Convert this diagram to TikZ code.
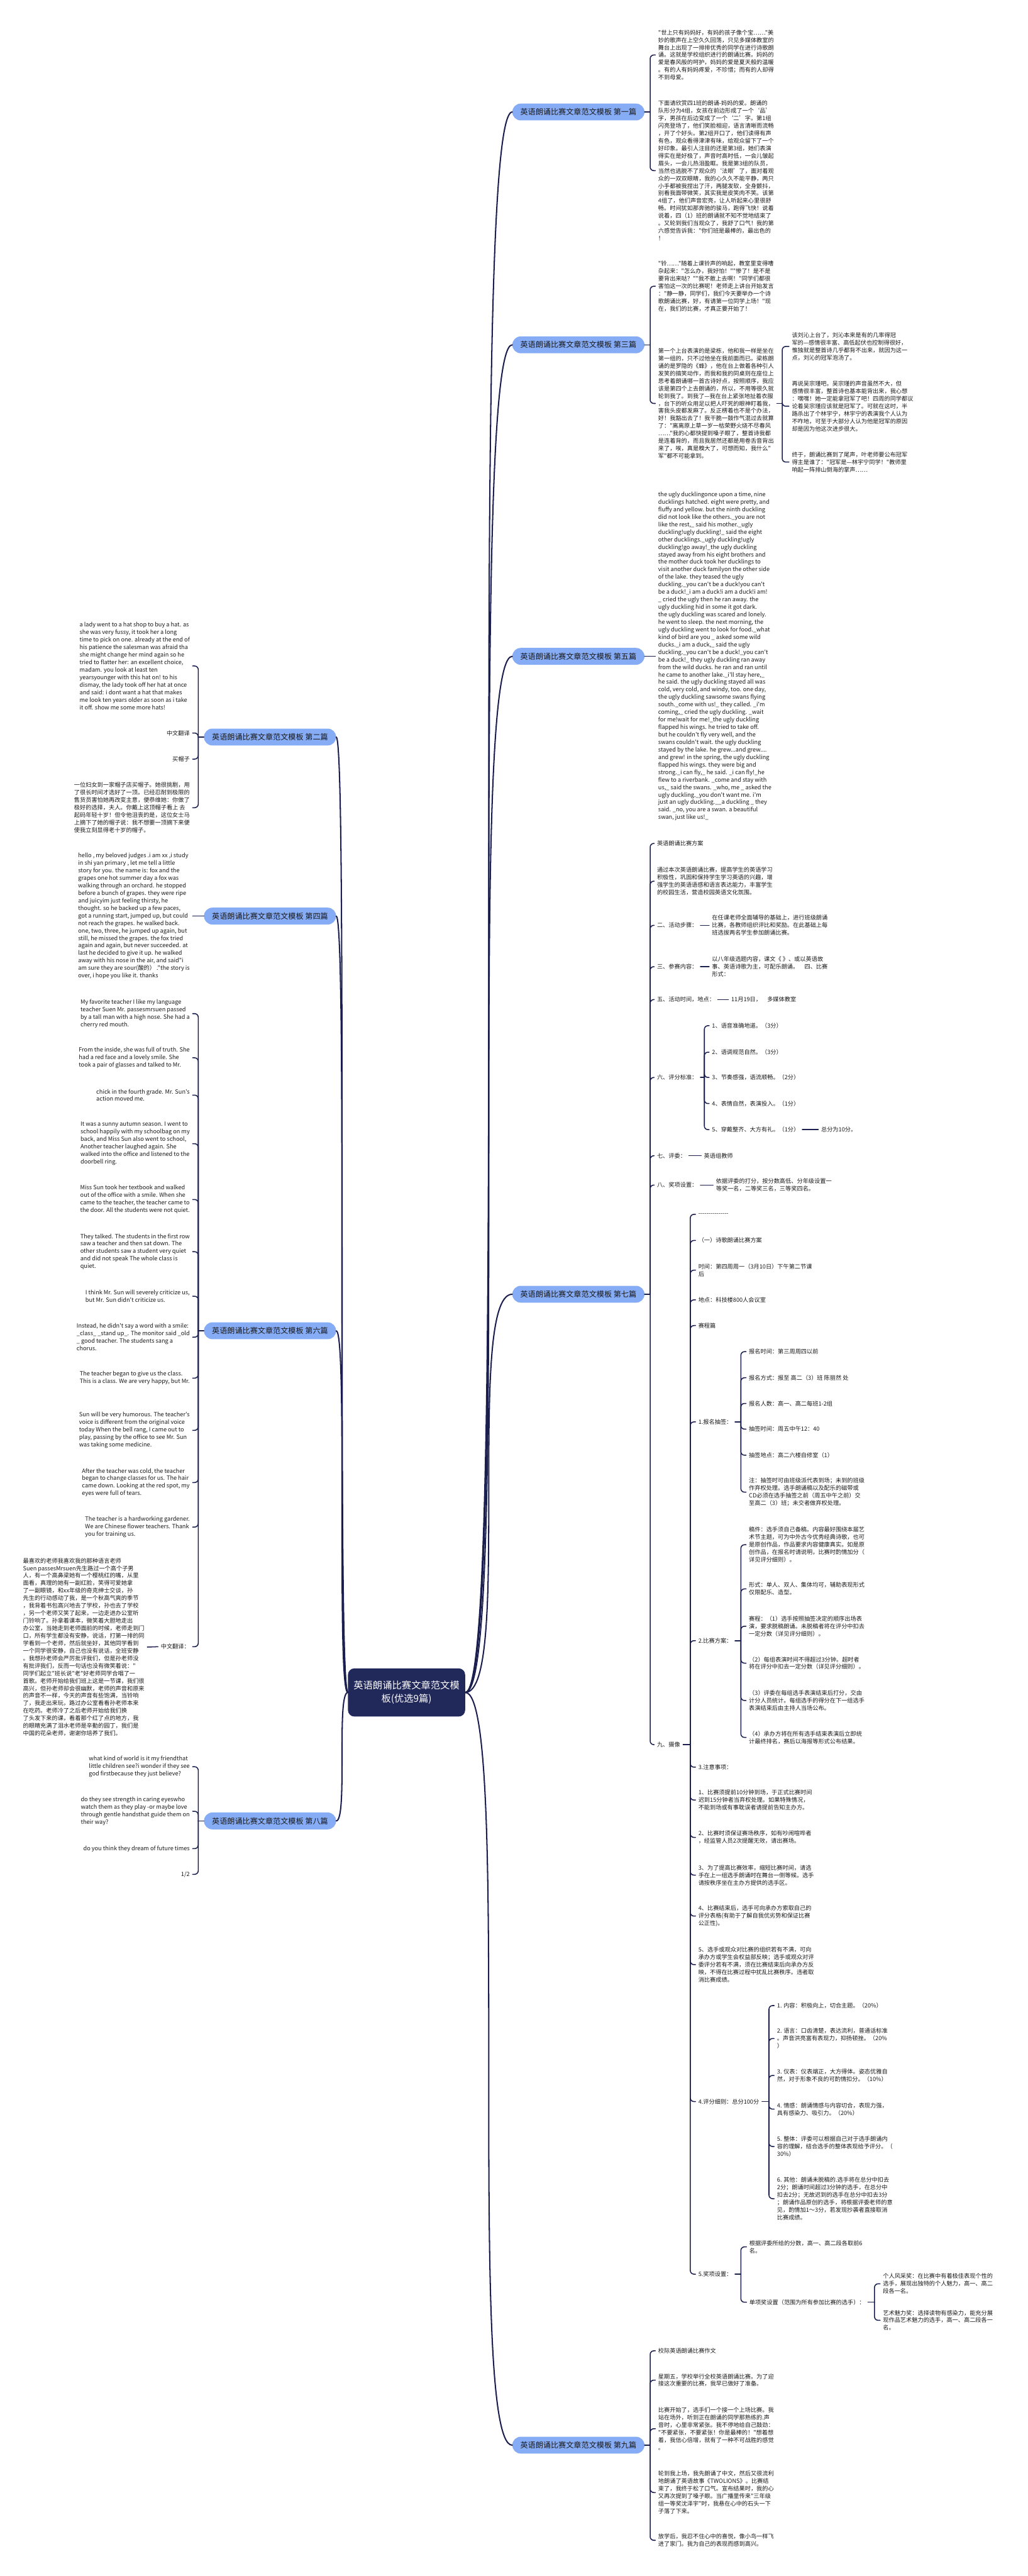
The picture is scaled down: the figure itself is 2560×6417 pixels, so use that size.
\documentclass[tikz,border=0pt]{standalone}
\usepackage{fontspec}
\newfontfamily\cjk{Noto Sans CJK SC}
\usetikzlibrary{calc}
\definecolor{rootc}{HTML}{21285A}
\definecolor{branchc}{HTML}{86ACF6}
\definecolor{linec}{HTML}{1B1F4E}
\definecolor{ink}{HTML}{1A1A1A}
\newcommand\tfont{\cjk\fontsize{14.4pt}{18.7pt}\selectfont}
\newcommand\bfont{\cjk\fontsize{19pt}{23pt}\selectfont}
\newcommand\rfont{\cjk\fontsize{24pt}{32pt}\selectfont}
\newcommand\brR[2]{\draw[conn] (#1) |- (#2.west);}
\newcommand\brL[2]{\draw[conn] (#1) |- (#2.east);}
\newcommand\mainR[1]{\draw[mainconn] (root.east) .. controls (root.east -| #1.west) and (#1.west -| root.east) .. (#1.west);}
\newcommand\mainL[1]{\draw[mainconn] (root.west) .. controls (root.west -| #1.east) and (#1.east -| root.west) .. (#1.east);}
\tikzset{
 txt/.style={font=\tfont, align=left, inner xsep=7pt, inner ysep=2pt, text=ink},
 tr/.style={txt, anchor=west},
 tl/.style={txt, anchor=east},
 branch/.style={font=\bfont, fill=branchc, text=ink, rounded corners=21pt, minimum height=42pt, inner xsep=20pt, inner ysep=0pt},
 rootnode/.style={font=\rfont, fill=rootc, text=white, rounded corners=16pt, align=center, inner xsep=14pt, inner ysep=16pt, minimum height=120pt},
 conn/.style={draw=linec, line width=2.4pt, rounded corners=9pt},
 mainconn/.style={draw=linec, line width=3.2pt},
}
\begin{document}
\begin{tikzpicture}[x=1pt,y=-1pt,line cap=round,line join=round]
\fill[white] (0,0) rectangle (2560,6417);
\useasboundingbox (0,0) rectangle (2560,6417);

% root
\node[rootnode] (root) at (1013,4216) {英语朗诵比赛文章范文模\\板(优选9篇)};

% branches
\node[branch, anchor=east] (b1) at (1606,279) {英语朗诵比赛文章范文模板 第一篇};
\node[branch, anchor=east] (b3) at (1606,859) {英语朗诵比赛文章范文模板 第三篇};
\node[branch, anchor=east] (b5) at (1606,1635) {英语朗诵比赛文章范文模板 第五篇};
\node[branch, anchor=east] (b7) at (1606,3224) {英语朗诵比赛文章范文模板 第七篇};
\node[branch, anchor=east] (b9) at (1606,6091) {英语朗诵比赛文章范文模板 第九篇};
\node[branch, anchor=west] (b2) at (508,1836) {英语朗诵比赛文章范文模板 第二篇};
\node[branch, anchor=west] (b4) at (508,2282) {英语朗诵比赛文章范文模板 第四篇};
\node[branch, anchor=west] (b6) at (508,3315) {英语朗诵比赛文章范文模板 第六篇};
\node[branch, anchor=west] (b8) at (508,4536) {英语朗诵比赛文章范文模板 第八篇};

\mainR{b1}\mainR{b3}\mainR{b5}\mainR{b7}\mainR{b9}
\mainL{b2}\mainL{b4}\mainL{b6}\mainL{b8}

% ---------- 第一篇
\node[tr] (b1a) at (1633,137) {"世上只有妈妈好，有妈的孩子像个宝……"美\\妙的歌声在上空久久回荡，只见多媒体教室的\\舞台上出现了一排排优秀的同学在进行诗歌朗\\诵。这就是学校组织进行的朗诵比赛。妈妈的\\爱是春风般的呵护，妈妈的爱是夏天般的温暖\\。有的人有妈妈疼爱，不珍惜；而有的人却得\\不到母爱。};
\node[tr] (b1b) at (1633,425) {下面请欣赏四1班的朗诵-妈妈的爱。朗诵的\\队形分为4组，女孩在前边形成了一个‘品’\\字，男孩在后边变成了一个‘二’字。第1组\\闪亮登场了，他们笑脸相迎，语言清晰而流畅\\，开了个好头。第2组开口了，他们读得有声\\有色，观众看得津津有味，给观众留下了一个\\好印象。最引人注目的还是第3组，她们表演\\得实在是好极了，声音时高时低，一会儿皱起\\眉头，一会儿热泪盈眶。我是第3组的队员，\\当然也逃脱不了观众的‘法眼’了，面对着观\\众的一双双眼睛，我的心久久不能平静，两只\\小手都被我捏出了汗，两腿发软，全身颤抖，\\别看我面带微笑，其实我是皮笑肉不笑。该第\\4组了，他们声音宏亮，让人听起来心里很舒\\畅。时间犹如那奔驰的骏马，跑得飞快！说着\\说着，四（1）班的朗诵就不知不觉地结束了\\。又轮到我们当观众了，我舒了口气！我的第\\六感觉告诉我："你们班是最棒的，最出色的\\！};
\coordinate (j1) at ($(b1.east)+(14,0)$);
\draw[conn] (b1.east) -- (j1);
\brR{j1}{b1a}\brR{j1}{b1b}

% ---------- 第三篇
\node[tr] (b3a) at (1633,713) {"铃……"随着上课铃声的响起，教室里变得嘈\\杂起来："怎么办，我好怕！""惨了！是不是\\要背出来哒？""我不敢上去啊！"同学们都很\\害怕这一次的比赛呢！老师走上讲台开始发言\\："静一静，同学们，我们今天要举办一个诗\\歌朗诵比赛，好，有请第一位同学上场！"现\\在，我们的比赛，才真正要开始了！};
\node[tr] (b3b) at (1633,1005) {第一个上台表演的是梁栋，他和我一样是坐在\\第一组的，只不过他坐在我前面而已。梁栋朗\\诵的是罗隐的《蜂》，他在台上做着各种引人\\发笑的搞笑动作，而我和我的同桌则在座位上\\思考着朗诵哪一首古诗好点，按照顺序，我应\\该是第四个上去朗诵的，所以，不用等很久就\\轮到我了。到我了—我在台上紧张地扯着衣服\\，台下的听众用足以把人吓死的眼神盯着我，\\害我头皮都发麻了。反正楞着也不是个办法，\\好！我豁出去了！我干脆一鼓作气混过去就算\\了："离离原上草一岁一枯荣野火烧不尽春风\\……"我的心都快提到嗓子眼了，整首诗我都\\是连着背的，而且我居然还都是用卷舌音背出\\来了，唉，真是糗大了，可想而知，我什么"\\军"都不可能拿到。};
\coordinate (j3) at ($(b3.east)+(14,0)$);
\draw[conn] (b3.east) -- (j3);
\brR{j3}{b3a}\brR{j3}{b3b}
\node[tr] (b3b1) at (1966,863) {该刘沁上台了，刘沁本来是有的几率得冠\\军的—感情很丰富、高低起伏也控制得很好，\\惟独就是整首诗几乎都背不出来，就因为这一\\点，刘沁的冠军泡汤了。};
\node[tr] (b3b2) at (1966,1012) {再说吴宗瑾吧。吴宗瑾的声音虽然不大，但\\感情很丰富，整首诗也基本能背出来，我心想\\：嘿嘿！她一定能拿冠军了吧！四周的同学都议\\论着吴宗瑾应该就是冠军了。可就在这时，半\\路杀出了个林宇宁，林宇宁的表演我个人认为\\不咋地，可至于大部分人认为他是冠军的原因\\却是因为他这次进步很大。};
\node[tr] (b3b3) at (1966,1151) {终于，朗诵比赛到了尾声，叶老师要公布冠军\\得主是谁了："冠军是—林宇宁同学！"教师里\\响起一阵排山倒海的掌声……};
\coordinate (j3b) at (1949,1005);
\draw[conn] (b3b.east) -- (j3b);
\brR{j3b}{b3b1}\brR{j3b}{b3b2}\brR{j3b}{b3b3}

% ---------- 第五篇
\node[tr] (b5a) at (1633,1635) {the ugly ducklingonce upon a time, nine\\ducklings hatched. eight were pretty, and\\fluffy and yellow. but the ninth duckling\\did not look like the others.\_you are not\\like the rest,\_ said his mother.\_ugly\\duckling!ugly duckling!\_ said the eight\\other ducklings.\_ugly duckling!ugly\\duckling!go away!\_the ugly duckling\\stayed away from his eight brothers and\\the mother duck took her ducklings to\\visit another duck familyon the other side\\of the lake. they teased the ugly\\duckling.\_you can't be a duck!you can't\\be a duck!\_i am a duck!i am a duck!i am!\\\_ cried the ugly  then he ran away. the\\ugly duckling hid in some  it got dark.\\the ugly duckling was scared and lonely.\\he went to sleep. the next morning, the\\ugly duckling went to look for food.\_what\\kind of bird are you \_ asked some wild\\ducks.\_i am a duck,\_ said the ugly\\duckling.\_you can't be a duck!\_you can't\\be a duck!\_ they  ugly duckling ran away\\from the wild ducks. he ran and ran until\\he came to another lake.\_i'll stay here,\_\\he said. the ugly duckling stayed all  was\\cold, very cold, and windy, too. one day,\\the ugly duckling sawsome swans flying\\south.\_come with us!\_ they called. \_i'm\\coming,\_ cried the ugly duckling. \_wait\\for me!wait for me!\_the ugly duckling\\flapped his wings. he tried to take off.\\but he couldn't fly very well, and the\\swans couldn't wait. the ugly duckling\\stayed by the lake. he grew...and grew....\\and grew! in the spring, the ugly duckling\\flapped his wings. they were big and\\strong.\_i can fly,\_ he said. \_i can fly!\_he\\flew to a riverbank. \_come and stay with\\us,\_ said the swans. \_who, me \_ asked the\\ugly duckling.\_you don't want me. i'm\\just an ugly duckling.\_\_a duckling \_ they\\said. \_no, you are a swan. a beautiful\\swan, just like us!\_};
\draw[conn] (b5.east) -- (b5a.west);

% ---------- 第七篇
\node[tr] (s1) at (1630,2101) {英语朗诵比赛方案};
\node[tr] (s2) at (1630,2195) {通过本次英语朗诵比赛，提高学生的英语学习\\积极性，巩固和保持学生学习英语的兴趣，增\\强学生的英语语感和语言表达能力，丰富学生\\的校园生活，营造校园英语文化氛围。};
\node[tr] (s3) at (1630,2305) {二、活动步骤：};
\node[tr] (s4) at (1630,2408) {三、参赛内容：};
\node[tr] (s5) at (1630,2490) {五、活动时间，地点：};
\node[tr] (s6) at (1630,2684) {六、评分标准：};
\node[tr] (s7) at (1630,2879) {七、评委：};
\node[tr] (s8) at (1630,2952) {八、奖项设置：};
\node[tr] (s9) at (1630,4346) {九、摄像};
\coordinate (j7) at ($(b7.east)+(14,0)$);
\draw[conn] (b7.east) -- (j7);
\brR{j7}{s1}\brR{j7}{s2}\brR{j7}{s3}\brR{j7}{s4}\brR{j7}{s5}\brR{j7}{s6}\brR{j7}{s7}\brR{j7}{s8}\brR{j7}{s9}

\node[tr] (s3a) at (1767,2305) {在任课老师全面辅导的基础上，进行班级朗诵\\比赛，各教师组织评比和奖励。在此基础上每\\班选拔两名学生参加朗诵比赛。};
\draw[conn] (s3.east) -- (s3a.west);
\node[tr] (s4a) at (1767,2408) {以八年级选题内容，课文《 》、或以英语故\\事、英语诗歌为主，可配乐朗诵。　四、比赛\\形式：};
\draw[conn] (s4.east) -- (s4a.west);
\node[tr] (s5a) at (1815,2490) {11月19日，　多媒体教室};
\draw[conn] (s5.east) -- (s5a.west);

\node[tr] (s6a) at (1767,2555) {1、语音准确地道。（3分）};
\node[tr] (s6b) at (1767,2621) {2、语调规范自然。（3分）};
\node[tr] (s6c) at (1767,2684) {3、节奏感强，语流顺畅。（2分）};
\node[tr] (s6d) at (1767,2749) {4、表情自然，表演投入。（1分）};
\node[tr] (s6e) at (1767,2814) {5、穿戴整齐、大方有礼。（1分）};
\coordinate (j6s) at (1755,2684);
\draw[conn] (s6.east) -- (j6s);
\brR{j6s}{s6a}\brR{j6s}{s6b}\brR{j6s}{s6c}\brR{j6s}{s6d}\brR{j6s}{s6e}
\node[tr] (s6e1) at (2039,2814) {总分为10分。};
\draw[conn] (s6e.east) -- (s6e1.west);

\node[tr] (s7a) at (1747,2879) {英语组教师};
\draw[conn] (s7.east) -- (s7a.west);
\node[tr] (s8a) at (1777,2952) {依据评委的打分，按分数高低、分年级设置一\\等奖一名，二等奖三名，三等奖四名。};
\draw[conn] (s8.east) -- (s8a.west);

% 九、摄像 children
\node[tr] (n1) at (1733,3025) {---------------};
\node[tr] (n2) at (1733,3090) {（一）诗歌朗诵比赛方案};
\node[tr] (n3) at (1733,3164) {时间：第四周周一（3月10日）下午第二节课\\后};
\node[tr] (n4) at (1733,3238) {地点：科技楼800人会议室};
\node[tr] (n5) at (1733,3302) {赛程篇};
\node[tr] (n6) at (1733,3542) {1.报名抽签：};
\node[tr] (n7) at (1733,4087) {2.比赛方案：};
\node[tr] (n8) at (1733,4402) {3.注意事项：};
\node[tr] (n9) at (1733,4484) {1、比赛须提前10分钟到场，于正式比赛时间\\迟到15分钟者当弃权处理。如果特殊情况，\\不能到场或有事耽误者请提前告知主办方。};
\node[tr] (n10) at (1733,4577) {2、比赛时须保证赛场秩序，如有吵闹喧哗者\\，经监管人员2次提醒无效，请出赛场。};
\node[tr] (n11) at (1733,4671) {3、为了提高比赛效率，缩短比赛时间，请选\\手在上一组选手朗诵时在舞台一侧等候。选手\\请按秩序坐在主办方提供的选手区。};
\node[tr] (n12) at (1733,4773) {4、比赛结束后，选手可向承办方索取自己的\\评分表格(有助于了解自我优劣势和保证比赛\\公正性)。};
\node[tr] (n13) at (1733,4894) {5、选手或观众对比赛的组织若有不满，可向\\承办方或学生会权益部反映；选手或观众对评\\委评分若有不满，须在比赛结束后向承办方反\\映，不得在比赛过程中扰乱比赛秩序。违者取\\消比赛成绩。};
\node[tr] (n14) at (1733,5235) {4.评分细则：总分100分};
\node[tr] (n15) at (1733,5665) {5.奖项设置：};
\coordinate (j9s) at (1720,4346);
\draw[conn] (s9.east) -- (j9s);
\brR{j9s}{n1}\brR{j9s}{n2}\brR{j9s}{n3}\brR{j9s}{n4}\brR{j9s}{n5}\brR{j9s}{n6}\brR{j9s}{n7}\brR{j9s}{n8}\brR{j9s}{n9}\brR{j9s}{n10}\brR{j9s}{n11}\brR{j9s}{n12}\brR{j9s}{n13}\brR{j9s}{n14}\brR{j9s}{n15}

% 1.报名抽签
\node[tr] (p1) at (1859,3367) {报名时间：第三周周四以前};
\node[tr] (p2) at (1859,3432) {报名方式：报至 高二（3）班 陈丽然 处};
\node[tr] (p3) at (1859,3496) {报名人数：高一、高二每班1-2组};
\node[tr] (p4) at (1859,3560) {抽签时间：周五中午12：40};
\node[tr] (p5) at (1859,3625) {抽签地点：高二六楼自修室（1）};
\node[tr] (p6) at (1859,3717) {注：抽签时可由班级派代表到场；未到的班级\\作弃权处理。选手朗诵稿以及配乐的磁带或\\CD必须在选手抽签之前（周五中午之前）交\\至高二（3）班；未交者做弃权处理。};
\coordinate (jn6) at (1846,3542);
\draw[conn] (n6.east) -- (jn6);
\brR{jn6}{p1}\brR{jn6}{p2}\brR{jn6}{p3}\brR{jn6}{p4}\brR{jn6}{p5}\brR{jn6}{p6}

% 2.比赛方案
\node[tr] (q1) at (1859,3848) {稿件：选手须自己备稿。内容最好围绕本届艺\\术节主题，可为中外古今优秀经典诗歌，也可\\是原创作品，作品要求内容健康真实。如是原\\创作品，在报名时请说明，比赛时酌情加分（\\详见评分细则）。};
\node[tr] (q2) at (1859,3958) {形式：单人、双人、集体均可，辅助表现形式\\仅限配乐、造型。};
\node[tr] (q3) at (1859,4051) {赛程：（1）选手按照抽签决定的顺序出场表\\演，要求脱稿朗诵。未脱稿者将在评分中扣去\\一定分数（详见评分细则）。};
\node[tr] (q4) at (1859,4143) {（2）每组表演时间不得超过3分钟。超时者\\将在评分中扣去一定分数（详见评分细则）。};
\node[tr] (q5) at (1859,4236) {（3）评委在每组选手表演结束后打分，交由\\计分人员统计。每组选手的得分在下一组选手\\表演结束后由主持人当场公布。};
\node[tr] (q6) at (1859,4328) {（4）承办方将在所有选手结束表演后立即统\\计最终排名，赛后以海报等形式公布结果。};
\coordinate (jn7) at (1846,4087);
\draw[conn] (n7.east) -- (jn7);
\brR{jn7}{q1}\brR{jn7}{q2}\brR{jn7}{q3}\brR{jn7}{q4}\brR{jn7}{q5}\brR{jn7}{q6}

% 4.评分细则
\node[tr] (r1) at (1929,4996) {1. 内容：积极向上，切合主题。（20\%）};
\node[tr] (r2) at (1929,5078) {2. 语言：口齿清楚，表达流利，普通话标准\\。声音洪亮富有表现力，抑扬顿挫。（20\%\\）};
\node[tr] (r3) at (1929,5170) {3. 仪表：仪表端正，大方得体。姿态优雅自\\然，对于形象不良的可酌情扣分。（10\%）};
\node[tr] (r4) at (1929,5254) {4. 情感：朗诵情感与内容切合，表现力强，\\具有感染力、吸引力。（20\%）};
\node[tr] (r5) at (1929,5347) {5. 整体：评委可以根据自己对于选手朗诵内\\容的理解，结合选手的整体表现给予评分。（\\30\%）};
\node[tr] (r6) at (1929,5477) {6. 其他：朗诵未脱稿的.选手将在总分中扣去\\2分；朗诵时间超过3分钟的选手，在总分中\\扣去2分；无故迟到的选手在总分中扣去3分\\；朗诵作品原创的选手，将根据评委老师的意\\见，酌情加1～3分，若发现抄袭者直接取消\\比赛成绩。};
\coordinate (jn14) at (1916,5235);
\draw[conn] (n14.east) -- (jn14);
\brR{jn14}{r1}\brR{jn14}{r2}\brR{jn14}{r3}\brR{jn14}{r4}\brR{jn14}{r5}\brR{jn14}{r6}

% 5.奖项设置
\node[tr] (t1) at (1860,5597) {根据评委所给的分数，高一、高二段各取前6\\名。};
\node[tr] (t2) at (1860,5735) {单项奖设置（范围为所有参加比赛的选手）：};
\coordinate (jn15) at (1846,5665);
\draw[conn] (n15.east) -- (jn15);
\brR{jn15}{t1}\brR{jn15}{t2}
\node[tr] (t21) at (2193,5689) {个人风采奖：在比赛中有着极佳表现个性的\\选手，展现出独特的个人魅力，高一、高二\\段各一名。};
\node[tr] (t22) at (2193,5780) {艺术魅力奖：选择读物有感染力，能充分展\\现作品艺术魅力的选手，高一、高二段各一\\名。};
\coordinate (jt2) at (2179,5735);
\draw[conn] (t2.east) -- (jt2);
\brR{jt2}{t21}\brR{jt2}{t22}

% ---------- 第九篇
\node[tr] (g1) at (1633,5856) {校际英语朗诵比赛作文};
\node[tr] (g2) at (1633,5929) {星期五，学校举行全校英语朗诵比赛。为了迎\\接这次重要的比赛，我早已做好了准备。};
\node[tr] (g3) at (1633,6050) {比赛开始了，选手们一个接一个上场比赛。我\\站在场外，听到正在朗诵的同学那熟练的.声\\音时，心里非常紧张。我不停地给自己鼓劲：\\"不要紧张，不要紧张！你是最棒的！"想着想\\着，我信心倍增，就有了一种不可战胜的感觉\\。};
\node[tr] (g4) at (1633,6209) {轮到我上场，我先朗诵了中文，然后又很流利\\地朗诵了英语故事《TWOLIONS》。比赛结\\束了，我终于松了口气。宣布结果时，我的心\\又再次提到了嗓子眼。当广播里传来"三年级\\组一等奖沈泽宇"时，我悬在心中的石头一下\\子落了下来。};
\node[tr] (g5) at (1633,6328) {放学后，我忍不住心中的喜悦，像小鸟一样飞\\进了家门。我为自己的表现而感到高兴。};
\coordinate (j9) at ($(b9.east)+(14,0)$);
\draw[conn] (b9.east) -- (j9);
\brR{j9}{g1}\brR{j9}{g2}\brR{j9}{g3}\brR{j9}{g4}\brR{j9}{g5}

% ---------- 第二篇
\node[tl] (h1) at (480,1659) {a lady went to a hat shop to buy a hat. as\\she was very fussy, it took her a long\\time to pick on one. already at the end of\\his patience the salesman was afraid tha\\she might change her mind again so he\\tried to flatter her: an excellent choice,\\madam. you look at least ten\\yearsyounger with this hat on! to his\\dismay, the lady took off her hat at once\\and said: i dont want a hat that makes\\me look ten years older as soon as i take\\it off. show me some more hats!};
\node[tl] (h2) at (480,1826) {中文翻译};
\node[tl] (h3) at (480,1891) {买帽子};
\node[tl] (h4) at (480,2012) {一位妇女到一家帽子店买帽子。她很挑剔，用\\了很长时间才选好了一顶。已经忍耐到极限的\\售货员害怕她再改变主意，便恭维她：你做了\\极好的选择，夫人。你戴上这顶帽子看上 去\\起码年轻十岁！但令他沮丧的是，这位女士马\\上摘下了她的帽子说：我不想要一顶摘下来便\\使我立刻显得老十岁的帽子。};
\coordinate (j2) at ($(b2.west)+(-14,0)$);
\draw[conn] (b2.west) -- (j2);
\brL{j2}{h1}\brL{j2}{h2}\brL{j2}{h3}\brL{j2}{h4}

% ---------- 第四篇
\node[tl] (f1) at (480,2282) {hello , my beloved judges .i am xx ,i study\\in shi yan primary , let me tell a little\\story for you. the name is: fox and the\\grapes one hot summer day a fox was\\walking through an orchard. he stopped\\before a bunch of grapes. they were ripe\\and juicyim just feeling thirsty, he\\thought. so he backed up a few paces,\\got a running start, jumped up, but could\\not reach the grapes. he walked back.\\one, two, three, he jumped up again, but\\still, he missed the grapes. the fox tried\\again and again, but never succeeded. at\\last he decided to give it up. he walked\\away with his nose in the air, and said"i\\am sure they are sour(酸的） ."the story is\\over, i hope you like it. thanks};
\draw[conn] (b4.west) -- (f1.east);

% ---------- 第六篇
\node[tl] (e1) at (480,2525) {My favorite teacher I like my language\\teacher Suen Mr. passesmrsuen passed\\by a tall man with a high nose. She had a\\cherry red mouth.};
\node[tl] (e2) at (480,2635) {From the inside, she was full of truth. She\\had a red face and a lovely smile. She\\took a pair of glasses and talked to Mr.};
\node[tl] (e3) at (480,2728) {chick in the fourth grade. Mr. Sun's\\action moved me.};
\node[tl] (e4) at (480,2849) {It was a sunny autumn season. I went to\\school happily with my schoolbag on my\\back, and Miss Sun also went to school,\\Another teacher laughed again. She\\walked into the office and listened to the\\doorbell ring.};
\node[tl] (e5) at (480,2988) {Miss Sun took her textbook and walked\\out of the office with a smile. When she\\came to the teacher, the teacher came to\\the door. All the students were not quiet.};
\node[tl] (e6) at (480,3118) {They talked. The students in the first row\\saw a teacher and then sat down. The\\other students saw a student very quiet\\and did not speak The whole class is\\quiet.};
\node[tl] (e7) at (480,3229) {I think Mr. Sun will severely criticize us,\\but Mr. Sun didn't criticize us.};
\node[tl] (e8) at (480,3331) {Instead, he didn't say a word with a smile:\\\_class\_ \_stand up\_. The monitor said \_old\\\_ good teacher. The students sang a\\chorus.};
\node[tl] (e9) at (480,3433) {The teacher began to give us the class.\\This is a class. We are very happy, but Mr.};
\node[tl] (e10) at (480,3563) {Sun will be very humorous. The teacher's\\voice is different from the original voice\\today When the bell rang, I came out to\\play, passing by the office to see Mr. Sun\\was taking some medicine.};
\node[tl] (e11) at (480,3693) {After the teacher was cold, the teacher\\began to change classes for us. The hair\\came down. Looking at the red spot, my\\eyes were full of tears.};
\node[tl] (e12) at (480,3804) {The teacher is a hardworking gardener.\\We are Chinese flower teachers. Thank\\you for training us.};
\node[tl] (e13) at (480,4102) {中文翻译：};
\coordinate (j6) at ($(b6.west)+(-14,0)$);
\draw[conn] (b6.west) -- (j6);
\brL{j6}{e1}\brL{j6}{e2}\brL{j6}{e3}\brL{j6}{e4}\brL{j6}{e5}\brL{j6}{e6}\brL{j6}{e7}\brL{j6}{e8}\brL{j6}{e9}\brL{j6}{e10}\brL{j6}{e11}\brL{j6}{e12}\brL{j6}{e13}
\node[tl] (e13a) at (367,4103) {最喜欢的老师我喜欢我的那种语言老师\\Suen passesMrsuen先生路过一个高个子男\\人，有一个高鼻梁她有一个樱桃红的嘴，从里\\面看，真理的她有一副红脸，笑得可爱她拿\\了一副眼镜，和xx年级的奇克绅士交谈，孙\\先生的行动感动了我，是一个秋高气爽的季节\\，我背着书包高兴地去了学校，孙也去了学校\\，另一个老师又笑了起来，一边走进办公室听\\门铃响了。孙拿着课本，微笑着大胆地走出\\办公室，当她走到老师面前的时候，老师走到门\\口，所有学生都没有安静，说话，打第一排的同\\学看到一个老师，然后就坐好，其他同学看到\\一个同学很安静，自己也没有说话，全班安静\\。我想孙老师会严厉批评我们，但是孙老师没\\有批评我们，反而一句话也没有微笑着说："\\同学们起立"班长说"老"好老师同学合唱了一\\首歌。老师开始给我们班上这是一节课，我们很\\高兴，但孙老师却会很幽默，老师的声音和原来\\的声音不一样，今天的声音有些饱满，当铃响\\了，我走出来玩，路过办公室看看孙老师本来\\在吃药。老师冷了之后老师开始给我们换\\了头发下来的课，看着那个红了点的地方，我\\的眼睛充满了泪水老师是辛勤的园丁，我们是\\中国的花朵老师，谢谢你培养了我们。};
\draw[conn] (e13.west) -- (e13a.east);

% ---------- 第八篇
\node[tl] (w1) at (480,4401) {what kind of world is it my friendthat\\little children see?i wonder if they see\\god firstbecause they just believe?};
\node[tl] (w2) at (480,4512) {do they see strength in caring eyeswho\\watch them as they play -or maybe love\\through gentle handsthat guide them on\\their way?};
\node[tl] (w3) at (480,4605) {do you think they dream of future times};
\node[tl] (w4) at (480,4669) {1/2};
\coordinate (j8) at ($(b8.west)+(-14,0)$);
\draw[conn] (b8.west) -- (j8);
\brL{j8}{w1}\brL{j8}{w2}\brL{j8}{w3}\brL{j8}{w4}
\end{tikzpicture}
\end{document}
